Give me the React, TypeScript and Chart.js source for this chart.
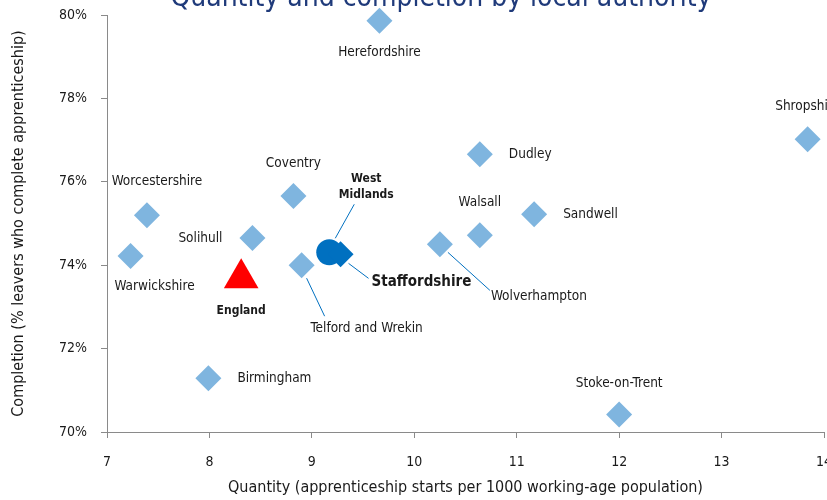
import React, { useEffect, useRef } from "react";
import { Chart, registerables } from "chart.js";

Chart.register(...registerables);

// ---- Data ----
const chartTitle = "Quantity and completion by local authority";
const xAxisTitle = "Quantity (apprenticeship starts per 1000 working-age population)";
const yAxisTitle = "Completion (% leavers who complete apprenticeship)";

const laNames = [
  "Herefordshire",
  "Shropshire",
  "Dudley",
  "Coventry",
  "Worcestershire",
  "Sandwell",
  "Walsall",
  "Solihull",
  "Wolverhampton",
  "Warwickshire",
  "Telford and Wrekin",
  "Birmingham",
  "Stoke-on-Trent",
];
const laQuantity = [9.66, 13.84, 10.64, 8.82, 7.39, 11.17, 10.64, 8.42, 10.25, 7.23, 8.9, 7.99, 12.0];
const laCompletion = [79.86, 77.02, 76.66, 75.66, 75.2, 75.22, 74.72, 74.65, 74.5, 74.22, 74.0, 71.29, 70.42];

const staffsName = "Staffordshire";
const staffsQuantity = [9.28];
const staffsCompletion = [74.26];

const wmName = "West Midlands";
const wmQuantity = [9.17];
const wmCompletion = [74.31];

const englandName = "England";
const englandQuantity = [8.31];
const englandCompletion = [73.69];

const xMin = 7;
const xMax = 14;
const yMin = 70;
const yMax = 80;

// ---- Label placement (pixel offsets from each marker) ----
type LabelCfg = {
  dx: number;
  dy: number;
  align: CanvasTextAlign;
  lines?: string[];
  bold?: boolean;
  size?: number;
  leader?: [number, number, number, number];
};
const labelCfg: Record<string, LabelCfg> = {
  Herefordshire: { dx: 0, dy: 32, align: "center" },
  Shropshire: { dx: 0, dy: -33, align: "center" },
  Dudley: { dx: 29, dy: 0, align: "left" },
  Coventry: { dx: 0, dy: -32, align: "center" },
  Worcestershire: { dx: 10, dy: -34, align: "center" },
  Sandwell: { dx: 29, dy: 0, align: "left" },
  Walsall: { dx: 0, dy: -33, align: "center" },
  Solihull: { dx: -30, dy: 0, align: "right" },
  Wolverhampton: { dx: 51, dy: 52, align: "left", leader: [8, 8, 50, 46] },
  Warwickshire: { dx: 24, dy: 30, align: "center" },
  "Telford and Wrekin": { dx: 65, dy: 63, align: "center", leader: [5, 13, 23, 51] },
  Birmingham: { dx: 29, dy: 0, align: "left" },
  "Stoke-on-Trent": { dx: 0, dy: -31, align: "center" },
  Staffordshire: { dx: 31, dy: 28, align: "left", bold: true, size: 15, leader: [8, 9, 28, 24] },
  "West Midlands": { dx: 37, dy: -73, align: "center", bold: true, size: 12, lines: ["West", "Midlands"], leader: [6, -14, 25, -48] },
  England: { dx: 0, dy: 33, align: "center", bold: true, size: 12 },
};

const FONT = "'DejaVu Sans Condensed', 'Open Sans', 'Liberation Sans', sans-serif";
const TEXT = "#1a1a1a";
const AXIS = "#8a8a8a";
const LEADER = "#0070C0";

const labelsPlugin = {
  id: "pointLabels",
  afterDatasetsDraw(chart: any) {
    const ctx: CanvasRenderingContext2D = chart.ctx;
    const xs = chart.scales.x;
    const ys = chart.scales.y;
    const items: { name: string; x: number; y: number }[] = [];
    laNames.forEach((n, i) => items.push({ name: n, x: laQuantity[i], y: laCompletion[i] }));
    items.push({ name: staffsName, x: staffsQuantity[0], y: staffsCompletion[0] });
    items.push({ name: wmName, x: wmQuantity[0], y: wmCompletion[0] });
    items.push({ name: englandName, x: englandQuantity[0], y: englandCompletion[0] });
    ctx.save();
    for (const it of items) {
      const cfg = labelCfg[it.name];
      if (!cfg) continue;
      const px = xs.getPixelForValue(it.x);
      const py = ys.getPixelForValue(it.y);
      if (cfg.leader) {
        const [a, b, c, d] = cfg.leader;
        ctx.strokeStyle = LEADER;
        ctx.lineWidth = 1;
        ctx.beginPath();
        ctx.moveTo(px + a, py + b);
        ctx.lineTo(px + c, py + d);
        ctx.stroke();
      }
      const size = cfg.size || 13.5;
      ctx.font = `${cfg.bold ? "bold " : ""}${size}px ${FONT}`;
      ctx.fillStyle = TEXT;
      ctx.textAlign = cfg.align;
      ctx.textBaseline = "middle";
      const lines = cfg.lines || [it.name];
      lines.forEach((ln, k) => {
        ctx.fillText(ln, px + cfg.dx, py + cfg.dy + k * 16);
      });
    }
    // Title (partly above the visible area)
    ctx.font = `28px ${FONT}`;
    ctx.fillStyle = "#1F3A7A";
    ctx.textAlign = "center";
    ctx.textBaseline = "alphabetic";
    ctx.fillText(chartTitle, 441, 6);
    ctx.restore();
  },
};

export default function App() {
  const ref = useRef<HTMLCanvasElement | null>(null);
  useEffect(() => {
    if (!ref.current) return;
    const chart = new Chart(ref.current, {
      type: "scatter",
      data: {
        datasets: [
          {
            label: "Local authorities",
            data: laQuantity.map((x, i) => ({ x, y: laCompletion[i] })),
            pointStyle: "rectRot",
            pointRadius: 13,
            pointHoverRadius: 13,
            backgroundColor: "#7FB5DF",
            borderWidth: 0,
          },
          {
            label: staffsName,
            data: staffsQuantity.map((x, i) => ({ x, y: staffsCompletion[i] })),
            pointStyle: "rectRot",
            pointRadius: 13,
            backgroundColor: "#0070C0",
            borderWidth: 0,
          },
          {
            label: wmName,
            data: wmQuantity.map((x, i) => ({ x, y: wmCompletion[i] })),
            pointStyle: "circle",
            pointRadius: 13,
            backgroundColor: "#0070C0",
            borderWidth: 0,
          },
          {
            label: englandName,
            data: englandQuantity.map((x, i) => ({ x, y: englandCompletion[i] })),
            pointStyle: "triangle",
            pointRadius: 20,
            backgroundColor: "#FF0000",
            borderWidth: 0,
          },
        ],
      },
      options: {
        animation: false,
        responsive: false,
        devicePixelRatio: 1,
        clip: false,
        layout: { autoPadding: false, padding: { top: 15, right: 3, left: 0, bottom: 0 } },
        plugins: {
          legend: { display: false },
          tooltip: { enabled: false },
          title: { display: false },
        },
        scales: {
          x: {
            type: "linear",
            min: xMin,
            max: xMax,
            ticks: {
              stepSize: 1,
              padding: 16,
              color: TEXT,
              font: { family: FONT, size: 14 },
              maxRotation: 0,
            },
            grid: { drawOnChartArea: false, drawTicks: true, tickLength: 6, color: AXIS },
            border: { color: AXIS, width: 1 },
            title: {
              display: true,
              text: xAxisTitle,
              color: TEXT,
              font: { family: FONT, size: 16 },
              padding: { top: 0, bottom: 3 },
            },
            afterFit(s: any) {
              s.height = 68;
              s.paddingLeft = 0;
              s.paddingRight = 0;
            },
          },
          y: {
            type: "linear",
            min: yMin,
            max: yMax,
            ticks: {
              stepSize: 2,
              padding: 14,
              color: TEXT,
              font: { family: FONT, size: 14 },
              callback: (v: any) => `${v}%`,
            },
            grid: { drawOnChartArea: false, drawTicks: true, tickLength: 6, color: AXIS },
            border: { color: AXIS, width: 1 },
            title: {
              display: true,
              text: yAxisTitle,
              color: TEXT,
              font: { family: FONT, size: 16 },
              padding: { top: 9, bottom: 0 },
            },
            afterFit(s: any) {
              s.width = 107;
              s.paddingTop = 0;
              s.paddingBottom = 0;
            },
          },
        },
      } as any,
      plugins: [labelsPlugin],
    });
    return () => chart.destroy();
  }, []);
  return (
    <div style={{ position: "absolute", left: 0, top: 0, width: 827, height: 500, overflow: "hidden", background: "#fff" }}>
      <canvas ref={ref} width={827} height={500} style={{ display: "block" }} />
    </div>
  );
}
